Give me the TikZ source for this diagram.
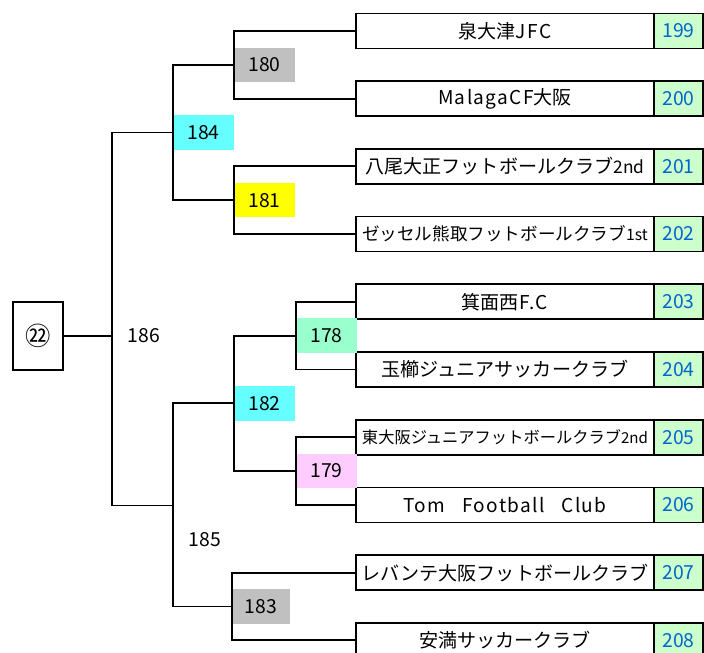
\documentclass[tikz,border=0pt]{standalone}
\usepackage{fontspec}
\setmainfont{Noto Sans CJK JP}
\definecolor{numblue}{HTML}{0066CC}
\definecolor{numgreen}{HTML}{CCFFCC}
\definecolor{mgray}{HTML}{C0C0C0}
\definecolor{mcyan}{HTML}{66FFFF}
\definecolor{myellow}{HTML}{FFFF00}
\definecolor{mgreen}{HTML}{99FFCC}
\definecolor{mpink}{HTML}{FFCCFF}
\newcommand{\wide}[1]{{\addfontfeature{LetterSpace=7}#1}}
\begin{document}
\begin{tikzpicture}[x=0.75pt,y=-0.75pt,
  every node/.style={inner sep=0pt, outer sep=0pt},
  team/.style={draw, line width=1.4pt, minimum width=223.5pt, minimum height=26.25pt, anchor=west, font=\fontsize{14.3}{16}\selectfont},
  numbox/.style={draw, line width=1.4pt, fill=numgreen, text=numblue, minimum width=36.75pt, minimum height=26.25pt, anchor=west, font=\fontsize{14.5}{16}\selectfont},
  match/.style={minimum width=45.75pt, minimum height=25.9pt, anchor=west, font=\fontsize{14.5}{16}\selectfont},
  plainlab/.style={font=\fontsize{14.5}{16}\selectfont},
  link/.style={line width=1.4pt}]
\useasboundingbox (0,0) rectangle (704,653);
% teams
\node[team] (t199) at (356,31) {泉大津\wide{JFC}};
\node[team] (t200) at (356,98.7) {\wide{MalagaCF}大阪};
\node[team] (t201) at (356,166.4) {八尾大正フットボールクラブ{\fontsize{13}{14}\selectfont 2nd}};
\node[team, font=\fontsize{13.2}{15}\selectfont] (t202) at (356,234) {ゼッセル熊取フットボールクラブ{\fontsize{11.8}{14}\selectfont 1st}};
\node[team] (t203) at (356,301.8) {箕面西\wide{F.C}};
\node[team] (t204) at (356,369.5) {玉櫛ジュニアサッカークラブ};
\node[team, font=\fontsize{12.2}{14}\selectfont] (t205) at (356,437.2) {東大阪ジュニアフットボールクラブ{\fontsize{11.3}{14}\selectfont 2nd}};
\node[team] (t206) at (356,505) {\wide{Tom\ \ \ Football\ \ \ Club}};
\node[team] (t207) at (356,572.6) {レバンテ大阪フットボールクラブ};
\node[team] (t208) at (356,640.3) {安満サッカークラブ};
% numbers
\foreach \n in {199,...,208}{
  \node[numbox] (n\n) at (t\n.east) {\n};
}
% first round labels
\node[match, fill=mgray] (m180) at (234,64.8) {180};
\node[match, fill=myellow] (m181) at (234,200.2) {181};
\node[match, fill=mgreen] (m178) at (296,335.6) {178};
\node[match, fill=mpink] (m179) at (296,471.1) {179};
\node[match, fill=mgray, minimum width=43.5pt] (m183) at (232,606.5) {183};
% second round
\node[match, fill=mcyan] (m184) at (173,132.5) {184};
\node[match, fill=mcyan] (m182) at (234,403.4) {182};
% final
\node[draw, line width=1.4pt, minimum width=37.5pt, minimum height=51pt, font=\fontsize{19}{20}\selectfont] (k22) at (38,336) {㉒};
\coordinate (j186) at (112,336);
\coordinate (j185) at (173,505.5);
\node[plainlab] (l186) at (144,336) {186};
\node[plainlab] (l185) at (205,540) {185};
% connectors
\draw[link] (t199.west) -| (m180.west) |- (t200.west);
\draw[link] (t201.west) -| (m181.west) |- (t202.west);
\draw[link] (t203.west) -| (m178.west) |- (t204.west);
\draw[link] (t205.west) -| (m179.west) |- (t206.west);
\draw[link] (t207.west) -| (m183.west) |- (t208.west);
\draw[link] (m180.west) -| (m184.west) |- (m181.west);
\draw[link] (m178.west) -| (m182.west) |- (m179.west);
\draw[link] (m182.west) -| (j185) |- (m183.west);
\draw[link] (m184.west) -| (j186) |- (j185);
\draw[link] (k22.east) -- (j186);
\end{tikzpicture}
\end{document}
